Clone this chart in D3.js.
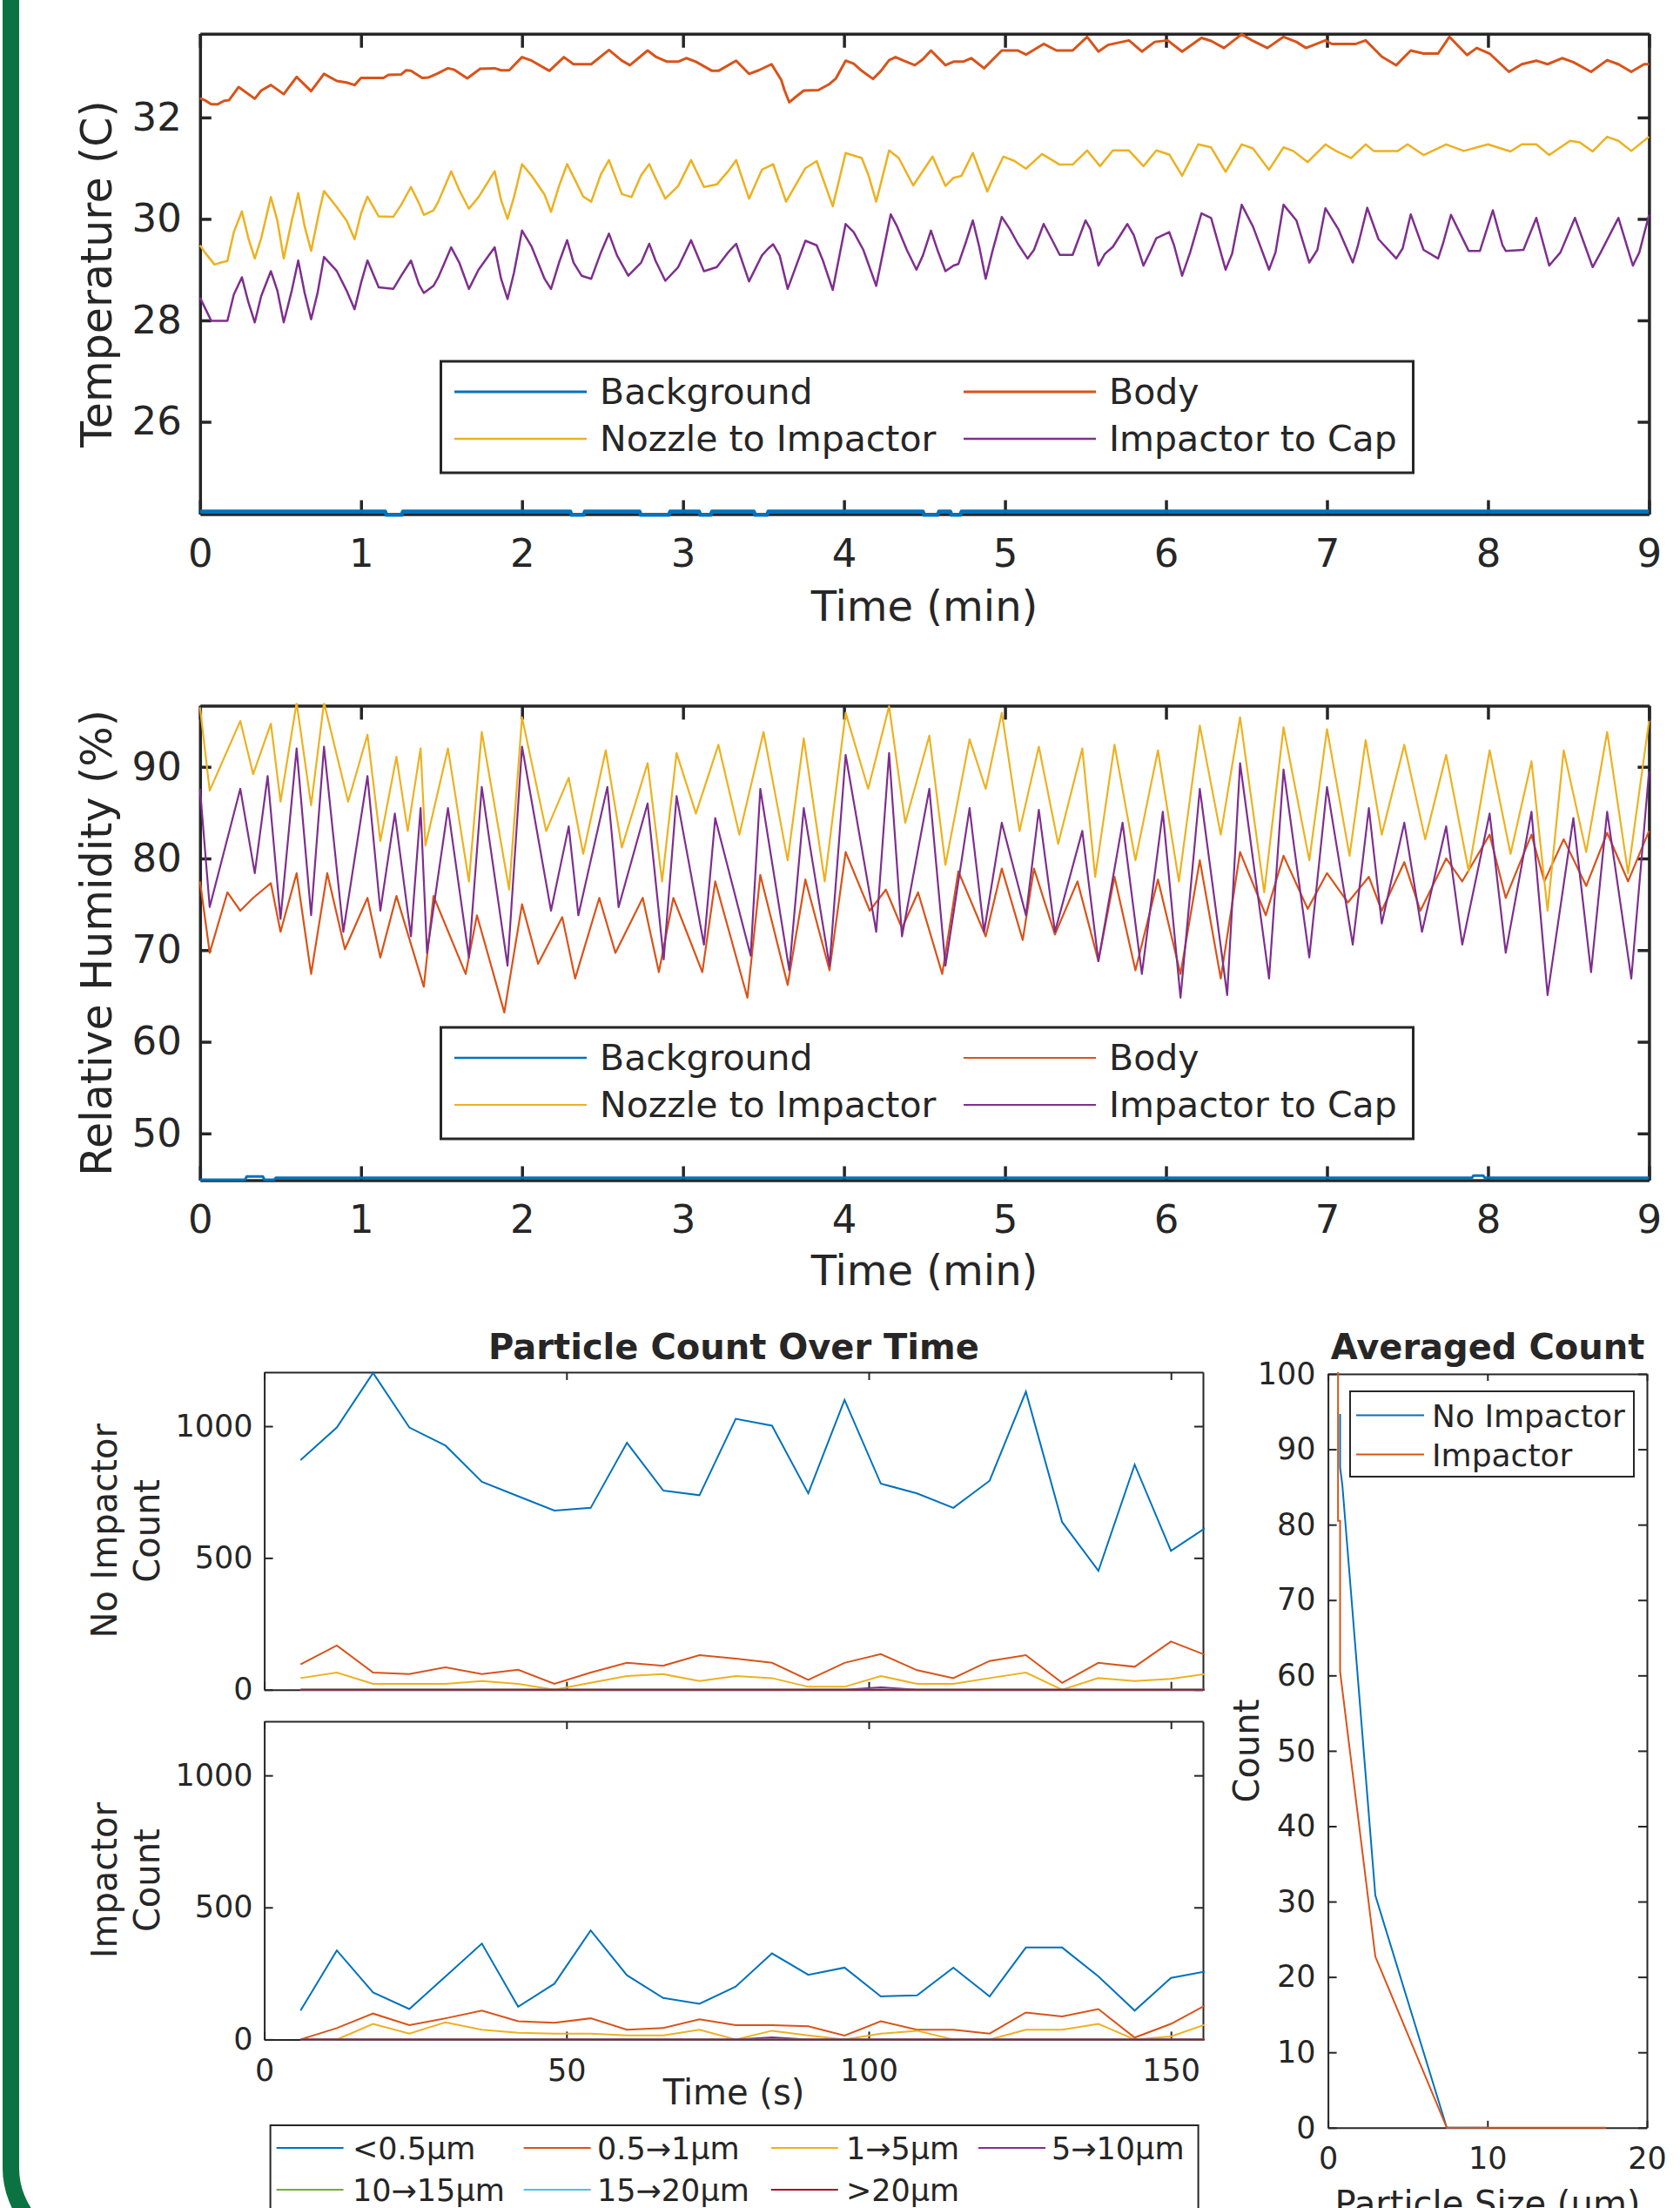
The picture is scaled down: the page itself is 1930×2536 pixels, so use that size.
<!DOCTYPE html>
<html>
<head>
<meta charset="utf-8">
<script src="https://cdn.jsdelivr.net/npm/d3@7"></script>
<style>
  body { margin: 0; background: #fff; }
  svg text { font-family: "DejaVu Sans"; fill: #262626; }
</style>
</head>
<body>
<svg id="fig" width="1930" height="2536"></svg>
<script>
// ---- data ----
// temperature (min, degC)
const tempBackground = [[0,24.23],[1.15,24.23],[1.16,24.15],[1.25,24.15],[1.26,24.23],[2.30,24.23],[2.31,24.15],[2.38,24.15],[2.39,24.23],[2.73,24.23],[2.74,24.15],[2.91,24.15],[2.92,24.23],[3.10,24.23],[3.11,24.15],[3.17,24.15],[3.18,24.23],[3.44,24.23],[3.45,24.15],[3.52,24.15],[3.53,24.23],[4.49,24.23],[4.50,24.15],[4.58,24.15],[4.59,24.23],[4.66,24.23],[4.67,24.15],[4.72,24.15],[4.73,24.23],[9,24.23]];
const tempBody = [[0,32.38],[0.03,32.34],[0.07,32.26],[0.11,32.26],[0.15,32.33],[0.18,32.34],[0.24,32.60],[0.34,32.37],[0.38,32.53],[0.44,32.64],[0.52,32.46],[0.60,32.80],[0.69,32.52],[0.77,32.86],[0.85,32.72],[0.91,32.69],[0.96,32.64],[1.00,32.78],[1.05,32.78],[1.14,32.78],[1.17,32.84],[1.25,32.85],[1.28,32.93],[1.31,32.92],[1.38,32.78],[1.42,32.79],[1.47,32.86],[1.54,32.97],[1.58,32.94],[1.66,32.77],[1.74,32.96],[1.83,32.97],[1.87,32.93],[1.92,32.93],[2.00,33.19],[2.06,33.12],[2.17,32.92],[2.26,33.19],[2.32,33.05],[2.43,33.05],[2.54,33.33],[2.62,33.12],[2.67,33.03],[2.78,33.32],[2.83,33.20],[2.90,33.10],[2.97,33.10],[3.02,33.17],[3.08,33.10],[3.18,32.92],[3.22,32.92],[3.33,33.12],[3.41,32.86],[3.47,32.93],[3.55,33.05],[3.61,32.74],[3.63,32.54],[3.66,32.30],[3.69,32.38],[3.75,32.53],[3.84,32.54],[3.91,32.66],[3.95,32.77],[4.01,33.12],[4.06,33.06],[4.11,32.92],[4.18,32.76],[4.23,32.92],[4.28,33.13],[4.32,33.19],[4.37,33.12],[4.44,33.03],[4.49,33.15],[4.54,33.32],[4.63,33.03],[4.68,33.10],[4.74,33.10],[4.79,33.17],[4.87,32.97],[4.98,33.32],[5.08,33.32],[5.13,33.24],[5.24,33.45],[5.32,33.32],[5.42,33.32],[5.51,33.59],[5.58,33.30],[5.64,33.43],[5.77,33.52],[5.85,33.30],[5.93,33.49],[6.01,33.52],[6.10,33.30],[6.22,33.57],[6.28,33.51],[6.36,33.37],[6.47,33.64],[6.54,33.51],[6.63,33.37],[6.73,33.59],[6.81,33.49],[6.87,33.37],[6.99,33.52],[7.03,33.45],[7.18,33.45],[7.24,33.52],[7.34,33.20],[7.43,33.03],[7.52,33.32],[7.60,33.26],[7.69,33.26],[7.76,33.59],[7.87,33.23],[7.93,33.37],[8.01,33.26],[8.13,32.90],[8.21,33.05],[8.30,33.12],[8.37,33.05],[8.46,33.17],[8.53,33.09],[8.64,32.90],[8.74,33.13],[8.81,33.05],[8.89,32.90],[8.97,33.05],[9.00,33.05]];
const tempNozzle = [[0,29.48],[0.03,29.34],[0.09,29.10],[0.13,29.14],[0.17,29.17],[0.21,29.74],[0.26,30.15],[0.30,29.62],[0.34,29.22],[0.38,29.62],[0.44,30.43],[0.48,29.97],[0.52,29.22],[0.57,29.97],[0.61,30.51],[0.65,29.85],[0.69,29.37],[0.74,30.14],[0.77,30.55],[0.85,30.23],[0.91,29.97],[0.96,29.60],[1.00,30.11],[1.04,30.44],[1.11,30.05],[1.20,30.04],[1.25,30.28],[1.31,30.63],[1.36,30.31],[1.39,30.08],[1.45,30.17],[1.48,30.34],[1.56,30.94],[1.61,30.57],[1.67,30.20],[1.73,30.43],[1.83,30.94],[1.87,30.37],[1.91,30.00],[1.95,30.43],[2.00,31.08],[2.06,30.85],[2.14,30.48],[2.18,30.14],[2.23,30.65],[2.28,31.08],[2.32,30.83],[2.38,30.44],[2.43,30.34],[2.49,30.88],[2.54,31.16],[2.62,30.49],[2.68,30.43],[2.74,30.86],[2.79,31.08],[2.83,30.80],[2.89,30.40],[2.97,30.65],[3.05,31.16],[3.13,30.63],[3.21,30.68],[3.28,30.94],[3.33,31.16],[3.41,30.40],[3.49,30.97],[3.56,31.08],[3.64,30.34],[3.76,31.00],[3.83,31.14],[3.93,30.25],[4.01,31.30],[4.11,31.20],[4.15,30.88],[4.20,30.34],[4.28,31.35],[4.34,31.20],[4.43,30.66],[4.55,31.23],[4.63,30.65],[4.68,30.81],[4.73,30.85],[4.80,31.30],[4.89,30.54],[4.93,30.83],[4.99,31.23],[5.06,31.14],[5.13,30.99],[5.23,31.28],[5.34,31.07],[5.42,31.07],[5.51,31.35],[5.59,31.04],[5.67,31.35],[5.77,31.35],[5.86,31.04],[5.94,31.35],[6.02,31.27],[6.10,30.85],[6.20,31.47],[6.28,31.41],[6.37,30.93],[6.47,31.47],[6.54,31.39],[6.64,30.97],[6.73,31.41],[6.79,31.34],[6.88,31.12],[6.99,31.47],[7.05,31.35],[7.15,31.20],[7.24,31.47],[7.29,31.34],[7.44,31.34],[7.50,31.47],[7.60,31.26],[7.74,31.47],[7.85,31.34],[8.00,31.47],[8.08,31.39],[8.14,31.33],[8.21,31.47],[8.30,31.47],[8.38,31.26],[8.51,31.54],[8.57,31.51],[8.65,31.33],[8.74,31.62],[8.81,31.54],[8.89,31.34],[9.00,31.62]];
const tempCap = [[0,28.45],[0.03,28.25],[0.07,27.99],[0.17,27.99],[0.21,28.51],[0.26,28.85],[0.30,28.36],[0.34,27.96],[0.38,28.48],[0.44,28.97],[0.48,28.59],[0.52,27.96],[0.57,28.59],[0.61,29.18],[0.65,28.54],[0.69,28.02],[0.73,28.54],[0.77,29.25],[0.85,28.97],[0.91,28.59],[0.96,28.22],[1.00,28.74],[1.04,29.18],[1.11,28.65],[1.20,28.62],[1.25,28.88],[1.31,29.18],[1.36,28.71],[1.39,28.54],[1.45,28.68],[1.48,28.85],[1.56,29.44],[1.61,29.14],[1.67,28.62],[1.73,29.00],[1.83,29.44],[1.87,28.82],[1.91,28.42],[1.95,28.94],[2.00,29.77],[2.06,29.45],[2.14,28.82],[2.18,28.62],[2.23,29.14],[2.28,29.58],[2.32,29.14],[2.37,28.88],[2.43,28.82],[2.49,29.34],[2.54,29.71],[2.59,29.28],[2.66,28.88],[2.74,29.14],[2.79,29.51],[2.83,29.17],[2.89,28.78],[2.97,29.05],[3.05,29.58],[3.13,28.97],[3.21,29.05],[3.28,29.34],[3.33,29.51],[3.41,28.77],[3.49,29.28],[3.53,29.42],[3.56,29.50],[3.60,29.28],[3.65,28.62],[3.76,29.57],[3.83,29.48],[3.87,29.17],[3.93,28.60],[4.01,29.90],[4.06,29.74],[4.12,29.39],[4.20,28.68],[4.29,30.09],[4.33,29.85],[4.39,29.39],[4.45,29.00],[4.49,29.28],[4.54,29.77],[4.58,29.39],[4.63,28.97],[4.68,29.08],[4.71,29.11],[4.76,29.57],[4.80,29.97],[4.84,29.45],[4.88,28.82],[4.92,29.34],[4.98,30.04],[5.03,29.80],[5.08,29.51],[5.14,29.22],[5.18,29.39],[5.24,29.90],[5.29,29.60],[5.34,29.29],[5.42,29.29],[5.50,29.97],[5.53,29.80],[5.58,29.08],[5.62,29.31],[5.67,29.45],[5.76,29.90],[5.80,29.68],[5.86,29.08],[5.90,29.34],[5.94,29.62],[6.02,29.74],[6.05,29.48],[6.10,28.88],[6.15,29.34],[6.22,30.11],[6.28,30.02],[6.37,29.00],[6.41,29.31],[6.47,30.28],[6.54,29.85],[6.64,29.00],[6.68,29.34],[6.73,30.28],[6.81,29.97],[6.89,29.14],[6.94,29.39],[6.99,30.21],[7.07,29.80],[7.16,29.14],[7.19,29.45],[7.25,30.22],[7.32,29.60],[7.43,29.22],[7.47,29.42],[7.52,30.09],[7.56,29.74],[7.60,29.39],[7.69,29.22],[7.72,29.51],[7.77,30.08],[7.88,29.37],[7.95,29.37],[8.03,30.17],[8.09,29.48],[8.11,29.37],[8.22,29.39],[8.30,30.02],[8.38,29.08],[8.45,29.34],[8.54,30.02],[8.65,29.05],[8.70,29.34],[8.81,30.02],[8.90,29.08],[8.94,29.34],[9.00,30.08]];

// relative humidity (min, %)
const rhBackground = [[0,44.95],[0.28,44.95],[0.29,45.3],[0.39,45.3],[0.40,44.95],[0.46,44.95],[0.47,45.15],[7.90,45.15],[7.91,45.4],[7.97,45.4],[7.98,45.15],[9,45.15]];
const rhBody = [[0,77.5],[0.06,69.7],[0.17,76.3],[0.25,74.3],[0.33,75.7],[0.44,77.3],[0.50,72.0],[0.60,78.4],[0.69,67.4],[0.79,78.4],[0.90,70.1],[1.04,75.7],[1.12,69.2],[1.22,75.9],[1.39,66.0],[1.45,75.9],[1.65,67.4],[1.72,73.8],[1.89,63.2],[2.00,75.0],[2.10,68.5],[2.25,73.6],[2.33,66.9],[2.48,75.7],[2.58,69.7],[2.75,75.7],[2.85,67.6],[2.94,75.7],[3.12,67.6],[3.20,77.5],[3.40,64.8],[3.48,78.2],[3.65,66.2],[3.76,77.7],[3.91,67.8],[4.01,80.7],[4.16,74.3],[4.26,76.6],[4.36,72.4],[4.46,76.3],[4.61,67.4],[4.71,78.6],[4.88,71.5],[4.98,78.9],[5.11,71.1],[5.18,78.9],[5.31,71.7],[5.45,77.5],[5.58,68.8],[5.68,78.0],[5.81,67.8],[5.95,77.7],[6.09,67.4],[6.21,79.8],[6.34,66.9],[6.46,80.7],[6.62,73.8],[6.73,80.3],[6.88,74.5],[7.00,78.4],[7.13,75.2],[7.26,78.0],[7.34,74.3],[7.48,79.6],[7.58,74.3],[7.74,80.0],[7.84,77.5],[8.01,82.6],[8.11,75.7],[8.27,82.6],[8.35,77.5],[8.47,82.1],[8.61,77.0],[8.74,82.8],[8.87,77.5],[9.00,83.0]];
const rhNozzle = [[0,96.5],[0.06,87.4],[0.25,95.0],[0.33,89.2],[0.44,94.7],[0.50,86.2],[0.60,97],[0.69,85.8],[0.77,97],[0.92,86.2],[1.04,93.5],[1.12,81.9],[1.22,91.1],[1.29,83.0],[1.37,92.0],[1.40,81.4],[1.54,92.0],[1.67,77.5],[1.75,93.8],[1.92,76.6],[2.00,95.4],[2.15,83.0],[2.29,88.8],[2.38,80.5],[2.52,91.8],[2.62,81.2],[2.78,90.4],[2.87,77.5],[2.96,91.5],[3.08,84.9],[3.22,92.4],[3.35,82.6],[3.50,93.8],[3.65,79.8],[3.75,93.1],[3.88,77.5],[4.01,95.9],[4.15,87.6],[4.28,96.6],[4.38,83.9],[4.53,93.4],[4.63,79.3],[4.78,93.0],[4.88,87.6],[4.98,95.9],[5.09,83.0],[5.21,92.2],[5.33,81.6],[5.48,92.0],[5.56,78.0],[5.68,92.4],[5.81,79.8],[5.95,91.8],[6.08,77.5],[6.21,94.5],[6.34,82.6],[6.46,95.4],[6.61,76.3],[6.73,94.3],[6.89,79.8],[7.00,94.1],[7.14,80.3],[7.24,92.9],[7.34,82.6],[7.48,92.4],[7.61,82.1],[7.74,91.3],[7.88,78.6],[8.01,91.8],[8.14,80.5],[8.27,90.6],[8.37,74.3],[8.47,91.8],[8.61,80.7],[8.74,93.8],[8.87,78.4],[9.00,95.0]];
const rhCap = [[0,87.6],[0.06,74.7],[0.25,87.6],[0.34,78.4],[0.42,89.0],[0.50,73.4],[0.60,92.0],[0.69,73.8],[0.77,92.2],[0.89,72.0],[1.04,89.0],[1.12,74.3],[1.21,84.9],[1.31,71.5],[1.37,85.5],[1.41,69.7],[1.54,85.5],[1.67,69.2],[1.75,87.8],[1.91,68.3],[2.00,92.2],[2.18,74.3],[2.29,83.5],[2.35,73.8],[2.53,87.8],[2.60,74.7],[2.78,86.0],[2.88,69.0],[2.96,86.8],[3.13,70.6],[3.20,84.4],[3.42,69.4],[3.48,87.6],[3.66,67.8],[3.75,85.5],[3.91,68.3],[4.01,91.3],[4.20,72.0],[4.28,91.5],[4.36,71.5],[4.53,87.6],[4.63,68.3],[4.78,85.5],[4.87,72.0],[4.98,83.9],[5.13,73.8],[5.21,85.3],[5.31,72.0],[5.48,83.0],[5.58,68.8],[5.73,83.9],[5.85,67.4],[5.98,85.1],[6.09,64.8],[6.21,87.6],[6.38,65.1],[6.46,90.4],[6.64,66.9],[6.73,89.7],[6.89,69.2],[7.00,87.8],[7.16,70.6],[7.26,85.5],[7.34,72.9],[7.48,83.9],[7.59,72.0],[7.74,83.5],[7.84,70.6],[8.01,84.9],[8.11,69.7],[8.27,85.1],[8.37,65.1],[8.53,84.4],[8.64,67.6],[8.74,85.1],[8.89,66.9],[9.00,89.5]];

// particle counts (s)
const particleTime = [6,12,18,24,30,36,42,48,54,60,66,72,78,84,90,96,102,108,114,120,126,132,138,144,150,156];
const sizeBands = ["<0.5μm","0.5→1μm","1→5μm","5→10μm","10→15μm","15→20μm",">20μm"];
const noImpLt05 = [871,995,1202,995,926,789,734,680,690,937,756,738,1028,1002,745,1100,782,745,690,793,1131,636,451,854,527,618];
const noImp05to1 = [96,168,65,59,85,59,76,22,65,102,91,131,118,102,37,102,135,74,44,109,131,26,102,87,183,129];
const noImp1to5 = [44,65,22,22,22,33,22,0,26,52,59,33,52,44,11,11,52,22,22,44,65,0,44,33,41,61];
const noImp5to10 = [0,0,0,0,0,0,0,0,0,0,0,0,0,0,0,0,9,0,0,0,0,0,0,0,0,0];
const impLt05 = [109,337,178,115,239,363,124,211,413,243,157,135,200,326,245,272,163,167,272,163,348,348,239,109,233,259];
const imp05to1 = [0,43,98,54,80,109,69,63,80,37,43,76,54,54,50,15,69,37,37,22,102,87,115,7,59,133];
const imp1to5 = [0,0,59,22,65,37,25,22,22,15,15,37,0,33,15,0,22,33,0,0,37,37,59,0,11,59];
const imp5to10 = [0,0,0,0,0,0,0,0,0,0,0,0,0,8,0,0,0,0,0,0,0,0,0,0,0,0];
const zeroCounts = [0,0,0,0,0,0,0,0,0,0,0,0,0,0,0,0,0,0,0,0,0,0,0,0,0,0];

// averaged count vs particle size
const avgSizeNoImp = [0.76,0.76,0.9,2.97,7.45,10];
const avgCountNoImp = [94.7,87.6,85.3,30.8,0,0];
const avgSizeImp = [0.63,0.63,0.76,0.76,2.97,7.45,17.45];
const avgCountImp = [101,80.5,80.5,60.5,22.7,0,0];

const C = { blue: "#0072BD", orange: "#D95319", yellow: "#EDB120", purple: "#7E2F8E",
            green: "#77AC30", cyan: "#4DBEEE", red: "#A2142F" };
const ink = "#262626";

const svg = d3.select("#fig");
const defs = svg.append("defs");

// green page border on the left
svg.append("path")
    .attr("d", "M12.5,0 V2490 A94,94 0 0 0 106.5,2584 H1900")
    .attr("fill", "none").attr("stroke", "#0b7342").attr("stroke-width", 19);

function styleAxis(sel, sw, fs) {
    sel.attr("font-family", null).attr("font-size", fs);
    sel.select(".domain").attr("stroke", ink).attr("stroke-width", sw);
    sel.selectAll(".tick line").attr("stroke", ink).attr("stroke-width", sw);
    sel.selectAll(".tick text").attr("fill", ink);
}

// box axes with inward ticks on all four sides
function frame(g, x, y, o) {
    const [xl, xr] = x.range(), [yb, yt] = y.range();
    g.append("g").attr("transform", `translate(0,${yb})`)
        .call(d3.axisBottom(x).tickValues(o.xt).tickSize(-o.xtl).tickSizeOuter(0).tickPadding(o.xp)
            .tickFormat(o.noXLabels ? "" : d3.format("d")))
        .call(styleAxis, o.sw, o.fs);
    g.append("g").attr("transform", `translate(0,${yt})`)
        .call(d3.axisTop(x).tickValues(o.xt).tickSize(-o.xtl).tickSizeOuter(0).tickFormat(""))
        .call(styleAxis, o.sw, o.fs);
    g.append("g").attr("transform", `translate(${xl},0)`)
        .call(d3.axisLeft(y).tickValues(o.yt).tickSize(-o.ytl).tickSizeOuter(0).tickPadding(o.yp)
            .tickFormat(d3.format("d")))
        .call(styleAxis, o.sw, o.fs);
    g.append("g").attr("transform", `translate(${xr},0)`)
        .call(d3.axisRight(y).tickValues(o.yt).tickSize(-o.ytl).tickSizeOuter(0).tickFormat(""))
        .call(styleAxis, o.sw, o.fs);
}

function clipFor(id, x, y, pad) {
    const [xl, xr] = x.range(), [yb, yt] = y.range();
    defs.append("clipPath").attr("id", id).append("rect")
        .attr("x", xl - pad).attr("y", yt - pad)
        .attr("width", xr - xl + 2 * pad).attr("height", yb - yt + 2 * pad);
    return `url(#${id})`;
}

function vLabel(g, lines, x0, yc, fs, gap) {
    lines.forEach((t, i) => {
        g.append("text")
            .attr("transform", `translate(${x0 + i * gap},${yc}) rotate(-90)`)
            .attr("text-anchor", "middle").attr("font-size", fs).text(t);
    });
}

// ---- temperature and humidity over time ----
function timeChart(cfg) {
    const g = svg.append("g");
    const x = d3.scaleLinear().domain([0, 9]).range([229.8, 1894.4]);
    const y = d3.scaleLinear().domain(cfg.yDomain).range([cfg.bottom, cfg.top]);
    frame(g, x, y, { xt: d3.range(0, 10), xtl: 16, yt: cfg.yTicks, ytl: 13, sw: 3.5, fs: 45, xp: 28.5, yp: 21 });

    const clip = clipFor(cfg.id, x, y, 3);
    const line = d3.line().x(d => x(d[0])).y(d => y(d[1]));
    cfg.series.forEach(s => {
        g.append("path").datum(s.data).attr("clip-path", clip)
            .attr("d", line).attr("fill", "none")
            .attr("stroke", s.color).attr("stroke-width", s.pw || s.w)
            .attr("stroke-linejoin", "round");
    });

    // legend
    const lg = g.append("g").attr("transform", `translate(506.5,${cfg.legendTop})`);
    lg.append("rect").attr("width", 1117).attr("height", 128)
        .attr("fill", "#fff").attr("stroke", ink).attr("stroke-width", 3);
    cfg.series.forEach((s, i) => {
        const cx = i % 2 === 0 ? 15.5 : 600.5, ry = i < 2 ? 35 : 89;
        lg.append("line").attr("x1", cx).attr("x2", cx + 152).attr("y1", ry).attr("y2", ry)
            .attr("stroke", s.color).attr("stroke-width", s.w);
        lg.append("text").attr("x", cx + 167).attr("y", ry + 14).attr("font-size", 41)
            .attr("fill", "#000").text(s.name);
    });

    g.append("text").attr("x", 1062).attr("y", cfg.xTitleY).attr("text-anchor", "middle")
        .attr("font-size", 48).text("Time (min)");
    vLabel(g, [cfg.yTitle], 128, (cfg.bottom + cfg.top) / 2, 49, 0);
}

timeChart({
    id: "clipTemp", top: 38.8, bottom: 590.5, yDomain: [24.18, 33.65], yTicks: [26, 28, 30, 32],
    legendTop: 415, xTitleY: 713, yTitle: "Temperature (C)",
    series: [
        { name: "Background", data: tempBackground, color: C.blue, w: 3, pw: 4.5 },
        { name: "Body", data: tempBody, color: C.orange, w: 3 },
        { name: "Nozzle to Impactor", data: tempNozzle, color: C.yellow, w: 2.5 },
        { name: "Impactor to Cap", data: tempCap, color: C.purple, w: 2.5 }
    ]
});

timeChart({
    id: "clipRH", top: 810.5, bottom: 1355.5, yDomain: [44.9, 96.67], yTicks: [50, 60, 70, 80, 90],
    legendTop: 1180, xTitleY: 1476, yTitle: "Relative Humidity (%)",
    series: [
        { name: "Background", data: rhBackground, color: C.blue, w: 2.4, pw: 3 },
        { name: "Body", data: rhBody, color: C.orange, w: 2.2 },
        { name: "Nozzle to Impactor", data: rhNozzle, color: C.yellow, w: 2.2 },
        { name: "Impactor to Cap", data: rhCap, color: C.purple, w: 2.2 }
    ]
});

// ---- particle count over time (two stacked panels) ----
const bandColors = [C.blue, C.orange, C.yellow, C.purple, C.green, C.cyan, C.red];
const px = d3.scaleLinear().domain([0, 155.3]).range([303.6, 1382]);

function countPanel(id, top, bottom, bands, showX, label) {
    const g = svg.append("g");
    const y = d3.scaleLinear().domain([0, 1205]).range([bottom, top]);
    frame(g, px, y, { xt: [0, 50, 100, 150], xtl: 9, yt: [0, 500, 1000], ytl: 10, sw: 2, fs: 35,
        xp: 22.5, yp: 13, noXLabels: !showX });
    const clip = clipFor(id, px, y, 2);
    const line = d3.line().x((d, i) => px(particleTime[i])).y(d => y(d));
    bands.forEach((vals, k) => {
        g.append("path").datum(vals).attr("clip-path", clip).attr("d", line)
            .attr("fill", "none").attr("stroke", bandColors[k]).attr("stroke-width", 2);
    });
    vLabel(g, label, 134, (top + bottom) / 2, 40, 49);
}

countPanel("clipNoImp", 1576, 1940.7,
    [noImpLt05, noImp05to1, noImp1to5, noImp5to10, zeroCounts, zeroCounts, zeroCounts], false, ["No Impactor", "Count"]);
countPanel("clipImp", 1977, 2342.4,
    [impLt05, imp05to1, imp1to5, imp5to10, zeroCounts, zeroCounts, zeroCounts], true, ["Impactor", "Count"]);

svg.append("text").attr("x", 843).attr("y", 1561).attr("text-anchor", "middle")
    .attr("font-size", 40).attr("font-weight", "bold").attr("fill", "#000").text("Particle Count Over Time");
svg.append("text").attr("x", 843).attr("y", 2417).attr("text-anchor", "middle")
    .attr("font-size", 40).text("Time (s)");

// size band legend
const bl = svg.append("g").attr("transform", "translate(310.6,2441)");
bl.append("rect").attr("width", 1066).attr("height", 130)
    .attr("fill", "#fff").attr("stroke", ink).attr("stroke-width", 2);
const colLine = [7, 291, 575.2, 813.4], colText = [94.4, 375.4, 661.4, 897.4];
sizeBands.forEach((name, i) => {
    const c = i % 4, ry = i < 4 ? 26 : 74;
    bl.append("line").attr("x1", colLine[c]).attr("x2", colLine[c] + 77).attr("y1", ry).attr("y2", ry)
        .attr("stroke", bandColors[i]).attr("stroke-width", 2);
    bl.append("text").attr("x", colText[c]).attr("y", ry + 12.5).attr("font-size", 35).text(name);
});

// ---- averaged count vs particle size ----
(function () {
    const g = svg.append("g");
    const x = d3.scaleLinear().domain([0, 20]).range([1525.6, 1892]);
    const y = d3.scaleLinear().domain([0, 100]).range([2443.8, 1578]);
    frame(g, x, y, { xt: [0, 10, 20], xtl: 8, yt: d3.range(0, 101, 10), ytl: 10, sw: 2, fs: 35, xp: 22, yp: 14 });
    const clip = clipFor("clipAvg", x, y, 2);
    const series = [
        { name: "No Impactor", xs: avgSizeNoImp, ys: avgCountNoImp, color: C.blue },
        { name: "Impactor", xs: avgSizeImp, ys: avgCountImp, color: C.orange }
    ];
    series.forEach(s => {
        const pts = s.xs.map((v, i) => [v, s.ys[i]]);
        g.append("path").datum(pts).attr("clip-path", clip)
            .attr("d", d3.line().x(d => x(d[0])).y(d => y(d[1])))
            .attr("fill", "none").attr("stroke", s.color).attr("stroke-width", 2);
    });
    const lg = g.append("g").attr("transform", "translate(1551,1598)");
    lg.append("rect").attr("width", 326).attr("height", 98)
        .attr("fill", "#fff").attr("stroke", ink).attr("stroke-width", 2);
    series.forEach((s, i) => {
        const ry = 27.6 + i * 45;
        lg.append("line").attr("x1", 7).attr("x2", 85).attr("y1", ry).attr("y2", ry)
            .attr("stroke", s.color).attr("stroke-width", 2);
        lg.append("text").attr("x", 94).attr("y", ry + 13).attr("font-size", 36).text(s.name);
    });
    g.append("text").attr("x", 1709).attr("y", 1561).attr("text-anchor", "middle")
        .attr("font-size", 40).attr("font-weight", "bold").attr("fill", "#000").text("Averaged Count");
    vLabel(g, ["Count"], 1446, 2011, 40, 0);
    g.append("text").attr("x", 1709).attr("y", 2545).attr("text-anchor", "middle")
        .attr("font-size", 40).text("Particle Size (μm)");
})();
</script>
</body>
</html>
